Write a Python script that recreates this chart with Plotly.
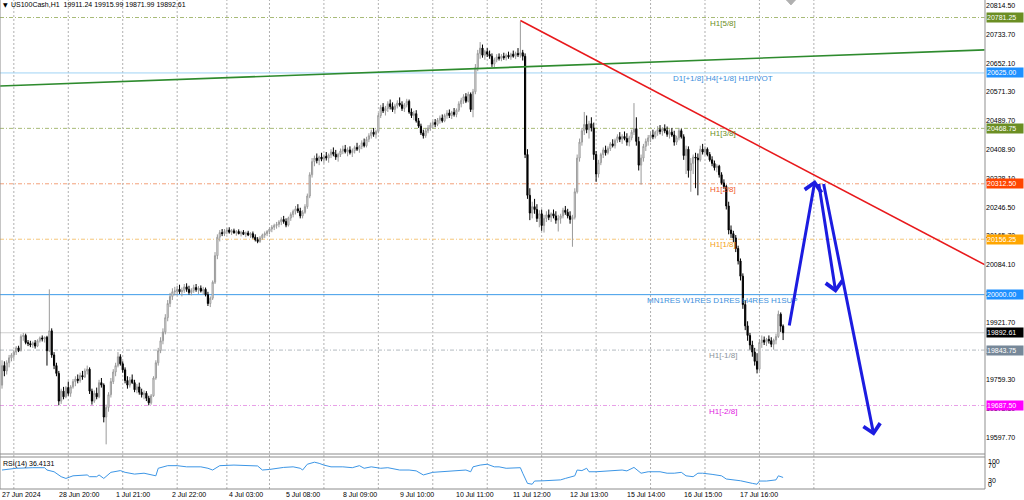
import plotly.graph_objects as go

# ---------------- data (H1 candles, bar index 0 = 27 Jun 19:00) ----------------
opens = [
    19745,19800,19785,19808,19822,19830,19838,19850,19842,19882,
    19885,19865,19862,19858,19864,19855,19870,19878,19875,19880,
    19842,19898,19830,19800,19778,19700,19728,19712,19738,19722,
    19740,19755,19762,19758,19772,19768,19785,19790,19728,19700,
    19722,19712,19752,19745,19655,19682,19718,19755,19782,19800,
    19825,19805,19788,19758,19745,19760,19752,19732,19740,19725,
    19718,19722,19708,19695,19715,19765,19808,19842,19870,19895,
    19935,19975,19995,20008,20010,20015,20008,20012,20022,20015,
    20006,20012,20020,20014,20018,20010,20015,20000,19975,19990,
    20035,20110,20162,20175,20172,20178,20182,20176,20180,20174,
    20178,20172,20176,20170,20174,20168,20172,20162,20155,20150,
    20160,20168,20172,20178,20185,20190,20195,20198,20205,20212,
    20206,20196,20216,20226,20235,20242,20236,20222,20232,20248,
    20278,20338,20375,20385,20378,20388,20382,20390,20385,20394,
    20402,20396,20388,20395,20405,20410,20403,20408,20400,20406,
    20415,20410,20418,20428,20420,20438,20448,20458,20452,20460,
    20505,20528,20518,20525,20538,20530,20522,20532,20540,20535,
    20525,20535,20545,20515,20505,20510,20490,20475,20456,20448,
    20462,20470,20478,20485,20480,20492,20498,20490,20505,20512,
    20505,20514,20508,20520,20538,20548,20558,20545,20565,20522,
    20572,20640,20680,20695,20675,20685,20678,20672,20650,20662,
    20670,20666,20672,20668,20675,20670,20678,20672,20680,20676,
    20682,20672,20395,20280,20230,20248,20240,20215,20228,20195,
    20215,20225,20218,20228,20222,20210,20215,20222,20238,20232,
    20222,20212,20218,20290,20385,20430,20462,20480,20465,20482,
    20470,20395,20340,20372,20395,20408,20400,20412,20425,20420,
    20435,20445,20438,20446,20440,20430,20442,20458,20468,20432,
    20365,20385,20418,20432,20442,20450,20445,20458,20465,20460,
    20468,20462,20452,20458,20450,20430,20442,20462,20445,20392,
    20410,20350,20370,20388,20385,20380,20410,20402,20410,20395,
    20380,20370,20358,20362,20338,20315,20305,20250,20182,20172,
    20160,20130,20095,20052,19972,19912,19885,19858,19838,19812,
    19790,19865,19872,19866,19874,19870,19860,19872,19882,19945,19911.24,
]
highs = [
    19815,19812,19815,19830,19835,19845,19855,19856,19888,19892,
    19890,19872,19870,19868,19872,19874,19882,19885,19882,19884,
    20015,19905,19838,19808,19785,19735,19740,19742,19755,19745,
    19762,19770,19775,19780,19785,19792,19800,19795,19735,19730,
    19738,19760,19765,19750,19690,19725,19765,19790,19808,19838,
    19832,19812,19795,19770,19768,19775,19760,19748,19752,19735,
    19730,19728,19715,19720,19770,19815,19850,19880,19905,19945,
    19985,20005,20018,20022,20025,20028,20020,20030,20032,20025,
    20018,20028,20030,20024,20026,20022,20020,20008,19995,20040,
    20120,20170,20182,20185,20185,20188,20190,20185,20186,20182,
    20184,20180,20182,20178,20180,20176,20178,20170,20162,20165,
    20172,20178,20182,20190,20196,20200,20205,20210,20218,20222,
    20215,20220,20232,20240,20250,20255,20245,20238,20255,20285,
    20345,20385,20392,20398,20392,20400,20395,20402,20398,20410,
    20415,20408,20400,20412,20420,20422,20415,20418,20412,20420,
    20428,20422,20435,20440,20445,20455,20465,20470,20465,20512,
    20535,20540,20532,20545,20550,20542,20538,20548,20556,20545,
    20540,20552,20550,20525,20518,20520,20498,20482,20465,20470,
    20478,20485,20490,20495,20498,20505,20508,20510,20520,20522,
    20518,20526,20525,20545,20555,20565,20568,20572,20570,20580,
    20650,20690,20712,20705,20690,20695,20688,20680,20668,20678,
    20680,20678,20682,20680,20685,20682,20688,20685,20695,20770,
    20690,20680,20410,20300,20262,20270,20255,20238,20240,20225,
    20235,20240,20232,20240,20235,20225,20228,20245,20250,20242,
    20235,20225,20300,20395,20440,20470,20515,20505,20490,20500,
    20485,20405,20380,20400,20415,20420,20418,20430,20438,20440,
    20452,20458,20452,20460,20455,20448,20465,20540,20500,20445,
    20395,20425,20440,20450,20458,20465,20462,20475,20478,20472,
    20480,20474,20466,20470,20462,20448,20470,20468,20452,20420,
    20418,20385,20395,20400,20398,20420,20425,20418,20415,20402,
    20390,20378,20368,20366,20345,20325,20310,20262,20195,20180,
    20168,20138,20102,20060,19985,19925,19892,19870,19850,19835,
    19875,19885,19882,19878,19885,19880,19876,19890,19955,19950,19915.99,
]
lows = [
    19735,19770,19775,19795,19812,19818,19830,19838,19840,19870,
    19860,19855,19852,19850,19848,19852,19865,19868,19865,19800,
    19838,19822,19790,19770,19688,19692,19705,19708,19715,19712,
    19735,19742,19750,19752,19760,19765,19775,19720,19690,19695,
    19705,19708,19738,19640,19578,19670,19710,19748,19770,19795,
    19800,19780,19750,19735,19738,19748,19725,19722,19718,19710,
    19705,19700,19688,19690,19712,19760,19800,19835,19860,19888,
    19925,19965,19985,19998,19998,20002,19995,20005,20008,20000,
    19998,20005,20008,20002,20006,20000,19995,19968,19965,19985,
    20030,20100,20150,20165,20165,20170,20172,20168,20172,20166,
    20170,20164,20168,20162,20165,20160,20158,20150,20145,20146,
    20155,20160,20165,20170,20176,20182,20186,20190,20196,20200,
    20190,20192,20208,20218,20226,20230,20215,20215,20228,20242,
    20272,20330,20362,20370,20365,20376,20370,20378,20372,20385,
    20390,20380,20375,20388,20396,20398,20390,20395,20388,20398,
    20405,20400,20410,20415,20415,20430,20440,20445,20440,20455,
    20498,20512,20505,20515,20522,20515,20510,20525,20530,20518,
    20515,20528,20510,20498,20492,20485,20470,20450,20440,20442,
    20455,20462,20468,20472,20475,20482,20485,20486,20496,20498,
    20495,20502,20500,20515,20528,20538,20540,20542,20515,20500,
    20565,20630,20665,20668,20662,20670,20665,20642,20640,20655,
    20660,20658,20662,20660,20665,20662,20668,20664,20670,20668,
    20660,20385,20270,20210,20215,20228,20205,20190,20180,20175,
    20205,20210,20205,20215,20200,20178,20200,20215,20225,20215,
    20200,20135,20212,20285,20375,20420,20450,20455,20440,20460,
    20380,20318,20330,20365,20385,20392,20395,20405,20415,20412,
    20428,20430,20425,20435,20420,20418,20435,20450,20420,20350,
    20310,20375,20405,20420,20430,20438,20440,20448,20452,20448,
    20455,20445,20440,20445,20420,20422,20435,20440,20380,20340,
    20330,20290,20340,20300,20280,20375,20395,20392,20390,20375,
    20362,20350,20345,20330,20310,20298,20240,20170,20160,20148,
    20120,20085,20040,19960,19900,19870,19845,19825,19800,19778,
    19785,19850,19858,19855,19862,19852,19845,19860,19878,19895,19871.99,
]
closes = [
    19800,19785,19808,19822,19830,19838,19850,19842,19882,19885,
    19865,19862,19858,19864,19855,19870,19878,19875,19880,19842,
    19898,19830,19800,19778,19700,19728,19712,19738,19722,19740,
    19755,19762,19758,19772,19768,19785,19790,19728,19700,19722,
    19712,19752,19745,19655,19682,19718,19755,19782,19800,19825,
    19805,19788,19758,19745,19760,19752,19732,19740,19725,19718,
    19722,19708,19695,19715,19765,19808,19842,19870,19895,19935,
    19975,19995,20008,20010,20015,20008,20012,20022,20015,20006,
    20012,20020,20014,20018,20010,20015,20000,19975,19990,20035,
    20110,20162,20175,20172,20178,20182,20176,20180,20174,20178,
    20172,20176,20170,20174,20168,20172,20162,20155,20150,20160,
    20168,20172,20178,20185,20190,20195,20198,20205,20212,20206,
    20196,20216,20226,20235,20242,20236,20222,20232,20248,20278,
    20338,20375,20385,20378,20388,20382,20390,20385,20394,20402,
    20396,20388,20395,20405,20410,20403,20408,20400,20406,20415,
    20410,20418,20428,20420,20438,20448,20458,20452,20460,20505,
    20528,20518,20525,20538,20530,20522,20532,20540,20535,20525,
    20535,20545,20515,20505,20510,20490,20475,20456,20448,20462,
    20470,20478,20485,20480,20492,20498,20490,20505,20512,20505,
    20514,20508,20520,20538,20548,20558,20545,20565,20522,20572,
    20640,20680,20695,20675,20685,20678,20672,20650,20662,20670,
    20666,20672,20668,20675,20670,20678,20672,20680,20676,20682,
    20672,20395,20280,20230,20248,20240,20215,20228,20195,20215,
    20225,20218,20228,20222,20210,20215,20222,20238,20232,20222,
    20212,20218,20290,20385,20430,20462,20480,20465,20482,20470,
    20395,20340,20372,20395,20408,20400,20412,20425,20420,20435,
    20445,20438,20446,20440,20430,20442,20458,20468,20432,20365,
    20385,20418,20432,20442,20450,20445,20458,20465,20460,20468,
    20462,20452,20458,20450,20430,20442,20462,20445,20392,20410,
    20350,20370,20388,20385,20380,20410,20402,20410,20395,20380,
    20370,20358,20362,20338,20315,20305,20250,20182,20172,20160,
    20130,20095,20052,19972,19912,19885,19858,19838,19812,19790,
    19865,19872,19866,19874,19870,19860,19872,19882,19945,19911.24,19892.61,
]
n_bars = min(len(opens), len(highs), len(lows), len(closes))
bars = list(range(n_bars))

# RSI(14) (bar index, value)
rsi_bars = [0, 6, 13, 18, 19, 22, 25, 27, 30, 36, 37, 40, 41, 43, 46, 50, 52, 56, 60, 63,
            65, 66, 70, 74, 78, 84, 87, 89, 92, 98, 108, 110, 113, 119, 123, 126, 127, 129, 132, 134,
            136, 139, 144, 148, 151, 153, 156, 160, 163, 168, 172, 175, 178, 182, 187, 192, 196, 198, 199, 202,
            205, 208, 210, 213, 219, 220, 222, 224, 225, 229, 233, 236, 238, 241, 242, 243, 245, 247, 248, 251,
            258, 262, 264, 267, 270, 273, 278, 281, 284, 287, 289, 292, 294, 296, 300, 304, 306, 312, 317, 319,
            320, 323, 327, 328, 330]
rsi_values = [62, 68, 70, 70, 62, 56, 39, 33, 42, 45, 39, 39, 45, 33, 54, 60, 54, 48, 51, 45,
              42, 68, 77, 77, 73, 73, 68, 62, 77, 79, 76, 62, 64, 71, 73, 68, 62, 82, 89, 85,
              79, 73, 73, 70, 77, 68, 73, 68, 70, 62, 62, 59, 45, 54, 56, 59, 62, 56, 73, 79,
              82, 73, 73, 68, 70, 51, 16, 13, 24, 25, 28, 28, 33, 39, 42, 62, 60, 68, 56, 56,
              60, 62, 59, 71, 51, 56, 56, 51, 51, 54, 42, 39, 51, 51, 47, 42, 31, 25, 16, 13,
              24, 24, 28, 42, 36.41]
rsi_last_text = "36.4131"

symbol_text = "US100Cash,H1"
ohlc_text = ["19911.24", "19915.99", "19871.99", "19892.61"]

# daily period separators (first bar of each session)
day_start_bars = [5, 28, 51, 74, 95, 113, 136, 159, 182, 205, 228, 251, 274, 297, 320, 343]

# time axis labels
time_label_bars = [0, 24, 48, 72, 96, 120, 144, 168, 192, 216, 240, 264, 288, 312]
time_labels = ["27 Jun 2024", "28 Jun 20:00", "1 Jul 21:00", "2 Jul 22:00", "4 Jul 03:00",
               "5 Jul 08:00", "8 Jul 09:00", "9 Jul 10:00", "10 Jul 11:00", "11 Jul 12:00",
               "12 Jul 13:00", "15 Jul 14:00", "16 Jul 15:00", "17 Jul 16:00"]

# price scale labels
price_ticks = [20814.50, 20733.70, 20652.10, 20571.30, 20489.70, 20408.90, 20328.10, 20246.50,
               20165.70, 20084.10, 20003.30, 19921.70, 19840.90, 19759.30, 19678.50, 19597.70]

# Murrey-style levels
level_prices = [20781.25, 20625.00, 20468.75, 20312.50, 20156.25, 20000.00, 19843.75, 19687.50]
level_texts = ["H1[5/8]", "D1[+1/8] H4[+1/8] H1PIVOT", "H1[3/8]", "H1[2/8]", "H1[1/8]",
               "MN1RES W1RES D1RES H4RES H1SUP", "H1[-1/8]", "H1[-2/8]"]
level_text_colors = ["#6b8e23", "#3d8fdc", "#6b8e23", "#f0582a", "#f4a020", "#3d8fdc", "#8a929a", "#e020e0"]
level_box_colors = ["#6b8e23", "#1e90ff", "#6b8e23", "#ff4500", "#ffa500", "#1e90ff", "#778899", "#ff00ff"]
level_line_colors = ["#a8bb78", "#9fd3f5", "#a8bb78", "#f3a07a", "#f5c67a", "#3d9be9", "#b4bac0", "#e8a0e8"]
level_line_dash = ["4px,2px,1px,2px", "solid", "4px,2px,1px,2px", "4px,2px,1px,2px", "4px,2px,1px,2px",
                   "solid", "4px,2px,1px,2px", "4px,2px,1px,2px"]
level_text_bar = 304.6

bid_price = 19892.61

# hand-drawn trend lines (bar, price)
green_bars = [-0.85, 415.3]
green_prices = [20588, 20690]
red_bars = [219, 415.3]
red_prices = [20773, 20084]

# forecast arrows: tail -> head (bar, price)
arrow_tail_bars = [332.5, 345.0, 347.0]
arrow_tail_prices = [19909, 20316, 20316]
arrow_head_bars = [343.5, 352.3, 368.4]
arrow_head_prices = [20323, 20005, 19602]

# ---------------- figure ----------------
X0, X1 = -0.845, 415.3
Y_MAIN = [19550.8, 20830.6]
Y_RSI = [-3.45, 106.9]
PLOT_H = 489
MAIN_DOMAIN = [35 / PLOT_H, 1]
RSI_DOMAIN = [0, 32 / PLOT_H]
FONT = "Liberation Sans, Arial, sans-serif"

fig = go.Figure()

fig.add_trace(go.Candlestick(
    x=bars, open=opens[:n_bars], high=highs[:n_bars], low=lows[:n_bars], close=closes[:n_bars],
    increasing=dict(line=dict(color="#9a9a9a", width=1), fillcolor="#ffffff"),
    decreasing=dict(line=dict(color="#000000", width=1), fillcolor="#000000"),
    whiskerwidth=0, xaxis="x", yaxis="y", showlegend=False,
))

fig.add_trace(go.Scatter(x=green_bars, y=green_prices, mode="lines",
                         line=dict(color="#2e8b2e", width=1.6), xaxis="x", yaxis="y",
                         showlegend=False, hoverinfo="skip"))
fig.add_trace(go.Scatter(x=red_bars, y=red_prices, mode="lines",
                         line=dict(color="#e8191c", width=1.6), xaxis="x", yaxis="y",
                         showlegend=False, hoverinfo="skip"))

fig.add_trace(go.Scatter(x=rsi_bars, y=rsi_values, mode="lines",
                         line=dict(color="#3c96e6", width=1), xaxis="x", yaxis="y2",
                         showlegend=False, hoverinfo="skip"))

shapes = []
for b in day_start_bars:
    shapes.append(dict(type="line", xref="x", yref="paper", x0=b, x1=b, y0=0, y1=1,
                       line=dict(color="#b0b0b0", width=1, dash="2px,2px"), layer="below"))
for p, c, d in zip(level_prices, level_line_colors, level_line_dash):
    shapes.append(dict(type="line", xref="paper", yref="y", x0=0, x1=1, y0=p, y1=p,
                       line=dict(color=c, width=1, dash=d), layer="below"))
shapes.append(dict(type="line", xref="paper", yref="y", x0=0, x1=1, y0=bid_price, y1=bid_price,
                   line=dict(color="#cfcfcf", width=1), layer="below"))
# panel frames
border = dict(color="#8c8c8c", width=1)
shapes += [
    dict(type="line", xref="paper", yref="paper", x0=0, x1=0, y0=0, y1=1, line=border),
    dict(type="line", xref="paper", yref="paper", x0=1, x1=1, y0=0, y1=1, line=dict(color="#b4b4b4", width=1.5)),
    dict(type="line", xref="paper", yref="paper", x0=0, x1=1, y0=MAIN_DOMAIN[0], y1=MAIN_DOMAIN[0], line=border),
    dict(type="line", xref="paper", yref="paper", x0=0, x1=1, y0=RSI_DOMAIN[1], y1=RSI_DOMAIN[1], line=border),
    dict(type="line", xref="paper", yref="paper", x0=0, x1=1, y0=0, y1=0, line=border),
]
# chart-shift marker at the top
shapes.append(dict(type="path", xref="paper", yref="paper",
                   path="M 0.7985 1 L 0.8075 1 L 0.803 0.99 Z",
                   fillcolor="#b0b0b0", line=dict(color="#b0b0b0", width=1)))

annotations = []
# header
annotations.append(dict(xref="paper", yref="paper", x=0, y=1, xanchor="left", yanchor="top",
                        text="▼", showarrow=False, xshift=1, yshift=1,
                        font=dict(family="DejaVu Sans", size=6, color="#000000")))
annotations.append(dict(xref="paper", yref="paper", x=0, y=1, xanchor="left", yanchor="top",
                        text=symbol_text + "&nbsp;&nbsp;" + " ".join(ohlc_text), showarrow=False,
                        xshift=9, yshift=1, font=dict(family=FONT, size=7, color="#000000")))
# RSI title
annotations.append(dict(xref="paper", yref="y2", x=0, y=Y_RSI[1], xanchor="left", yanchor="top",
                        text="RSI(14) " + rsi_last_text, showarrow=False, xshift=1, yshift=-1,
                        font=dict(family=FONT, size=7, color="#000000")))
# RSI scale labels
for txt, yv, anc, ys in [("100", Y_RSI[1], "top", 1), ("70", 70, "middle", 2),
                         ("30", 30, "middle", -1), ("0", Y_RSI[0], "bottom", -1)]:
    annotations.append(dict(xref="paper", yref="y2", x=1, y=yv, xanchor="left", yanchor=anc,
                            text=txt, showarrow=False, xshift=1, yshift=ys,
                            font=dict(family=FONT, size=7, color="#000000")))
# time labels
for b, t in zip(time_label_bars, time_labels):
    annotations.append(dict(xref="x", yref="paper", x=b, y=0, xanchor="left", yanchor="top",
                            text=t, showarrow=False, xshift=-2, yshift=0,
                            font=dict(family=FONT, size=7, color="#000000")))
# level texts and price boxes
for p, t, tc, bc in zip(level_prices, level_texts, level_text_colors, level_box_colors):
    annotations.append(dict(xref="x", yref="y", x=level_text_bar, y=p, xanchor="center", yanchor="top",
                            text=t, showarrow=False, yshift=1,
                            font=dict(family=FONT, size=8, color=tc)))
    annotations.append(dict(xref="paper", yref="y", x=1, y=p, xanchor="left", yanchor="middle",
                            text=f"{p:.2f}", showarrow=False, bgcolor=bc, borderpad=0,
                            width=36, height=9, align="left", xshift=1,
                            font=dict(family=FONT, size=7, color="#ffffff")))
annotations.append(dict(xref="paper", yref="y", x=1, y=bid_price, xanchor="left", yanchor="middle",
                        text=f"{bid_price:.2f}", showarrow=False, bgcolor="#000000", borderpad=0,
                        width=36, height=9, align="left", xshift=1,
                        font=dict(family=FONT, size=7, color="#ffffff")))
# forecast arrows
for tb, tp, hb, hp in zip(arrow_tail_bars, arrow_tail_prices, arrow_head_bars, arrow_head_prices):
    annotations.append(dict(xref="x", yref="y", axref="x", ayref="y", x=hb, y=hp, ax=tb, ay=tp,
                            text="", showarrow=True, arrowhead=4, arrowsize=1.1, arrowwidth=3,
                            arrowcolor="#1c1ce0", standoff=0, startstandoff=0))

fig.update_layout(
    width=1024, height=500, autosize=False,
    margin=dict(l=0, r=39, t=0, b=11, pad=0),
    paper_bgcolor="#ffffff", plot_bgcolor="#ffffff",
    showlegend=False,
    xaxis=dict(range=[X0, X1], showgrid=False, zeroline=False, showticklabels=False, ticks="",
               showline=False, anchor="y2", rangeslider=dict(visible=False), fixedrange=True),
    yaxis=dict(domain=MAIN_DOMAIN, range=Y_MAIN, side="right", anchor="x",
               tickmode="array", tickvals=price_ticks, ticktext=[f"{v:.2f}" for v in price_ticks],
               showgrid=False, zeroline=False, ticks="", showline=False,
               tickfont=dict(family=FONT, size=7, color="#000000")),
    yaxis2=dict(domain=RSI_DOMAIN, range=Y_RSI, anchor="x", showticklabels=False,
                showgrid=False, zeroline=False, ticks="", showline=False),
    shapes=shapes,
    annotations=annotations,
)

fig.write_html("out.html",
               config={"displayModeBar": False},
               post_script="document.body.style.margin='0';document.body.style.overflow='hidden';")
